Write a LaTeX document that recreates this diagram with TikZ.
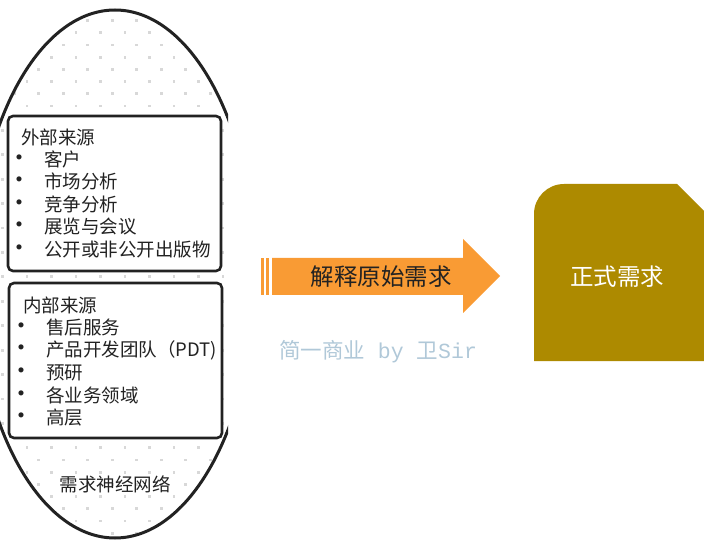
\documentclass[tikz,border=0pt]{standalone}
\usepackage{fontspec}
\setmainfont{Noto Sans CJK SC}
\newfontfamily\monofont{Liberation Mono}
\usepackage{tikz}
\usetikzlibrary{calc}
\definecolor{ink}{HTML}{222222}
\definecolor{arrowfill}{HTML}{F99B34}
\definecolor{goldbox}{HTML}{AD8A00}
\definecolor{dotgray}{HTML}{D8D8D8}
\definecolor{wmark}{HTML}{B0C8D8}
\newcommand{\blt}{\llap{{\fontsize{24}{22}\selectfont\textbullet}\hspace{13pt}}}

\begin{document}
\begin{tikzpicture}[x=1pt, y=-1pt,
    every node/.style={inner sep=0pt, text=ink},
    item/.style={anchor=west, font=\fontsize{18.5}{22}\selectfont},
    srcbox/.style={draw=ink, line width=2.6pt, rounded corners=5pt, fill=white}]
  \useasboundingbox (0,0) rectangle (704,545);
  % dotted network ellipse
  \begin{scope}
    \clip (0,0) rectangle (228,545);
    \begin{scope}
      \clip (115,274) ellipse [x radius=140pt, y radius=264pt];
      \foreach \i in {0,...,44}{
        \pgfmathsetmacro{\yd}{5.7+12.2*\i}
        \pgfmathsetmacro{\xo}{isodd(\i) ? 14.3 : 2.5}
        \foreach \j in {0,...,9}
          \fill[dotgray] ({\xo+24.5*\j-1.4},{\yd+1.4}) rectangle +(2.8,2.8);
      }
    \end{scope}
    \draw[ink, line width=3pt] (115,274) ellipse [x radius=140pt, y radius=264pt];
  \end{scope}
  % source boxes
  \draw[srcbox] (8,116) rectangle (221,271);
  \draw[srcbox] (9,283) rectangle (222,438);
  \node[item] (ext) at (21,137) {外部来源};
  \foreach \t [count=\i] in {客户,市场分析,竞争分析,展览与会议,公开或非公开出版物}
    \node[item] (ext\i) at (44,{137+22.4*\i}) {\blt\t};
  \node[item] (int) at (23,305) {内部来源};
  \foreach \t [count=\i] in {售后服务,产品开发团队（PDT),预研,各业务领域,高层}
    \node[item] (int\i) at (46,{305+22.6*\i}) {\blt\t};
  \node[item, anchor=center] (net) at (115,484) {需求神经网络};
  % arrow
  \fill[arrowfill] (261,258) rectangle (264,295);
  \fill[arrowfill] (266,258) rectangle (269,295);
  \fill[arrowfill] (272,258) -- (463,258) -- (463,239) -- (500,276) -- (463,313)
    -- (463,295) -- (272,295) -- cycle;
  \node[font=\fontsize{23.5}{28}\selectfont] (interp) at (381,277) {解释原始需求};
  \node[text=wmark, font=\fontsize{21.5}{25}\selectfont] (mark) at (378,352)
    {简一商业{\monofont\ by\ }卫{\monofont Sir}};
  % formal requirements
  \fill[goldbox] (534,361) [rounded corners=30pt] -- (534,184) [sharp corners]
    -- (677,184) -- (704,211) -- (704,361) -- cycle;
  \node[text=white, font=\fontsize{23.5}{28}\selectfont] (formal) at (617,277) {正式需求};
\end{tikzpicture}
\end{document}
